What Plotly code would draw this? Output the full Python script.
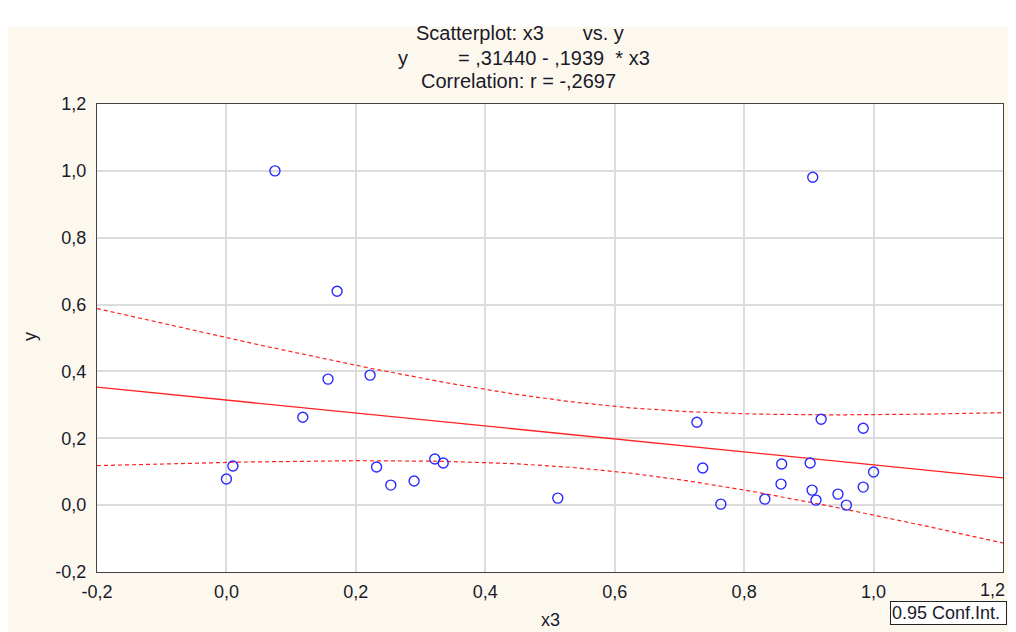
import numpy as np
import plotly.graph_objects as go

# ---- data ----
x3 = [0.075, 0.906, 0.171, 0.157, 0.222, 0.118, 0.000, 0.010, 0.232, 0.254,
      0.290, 0.322, 0.335, 0.512, 0.727, 0.736, 0.764, 0.832, 0.857, 0.858,
      0.902, 0.905, 0.911, 0.919, 0.945, 0.958, 0.984, 0.984, 1.000]
y = [1.000, 0.981, 0.640, 0.377, 0.389, 0.263, 0.078, 0.117, 0.114, 0.060,
     0.072, 0.138, 0.126, 0.021, 0.248, 0.111, 0.003, 0.018, 0.063, 0.123,
     0.126, 0.045, 0.015, 0.257, 0.033, 0.000, 0.230, 0.054, 0.099]
intercept = 0.31440
slope = -0.1939
t_crit = 2.052  # t(0.975, df=27)

tick_vals = [-0.2, 0.0, 0.2, 0.4, 0.6, 0.8, 1.0, 1.2]
tick_text = ["-0,2", "0,0", "0,2", "0,4", "0,6", "0,8", "1,0", "1,2"]

# ---- regression line and 95% confidence band ----
xa = np.array(x3); ya = np.array(y)
n = len(xa)
xm = xa.mean()
sxx = ((xa - xm) ** 2).sum()
resid = ya - (intercept + slope * xa)
s = np.sqrt((resid ** 2).sum() / (n - 2))
xs = np.linspace(-0.2, 1.2, 141)
pred = intercept + slope * xs
se = s * np.sqrt(1.0 / n + (xs - xm) ** 2 / sxx)
upper = pred + t_crit * se
lower = pred - t_crit * se

OFF = 8  # browser body margin
W, H = 1016 - 2 * OFF, 632 - OFF
L, T = 97 - OFF, 104 - OFF
R = (OFF + W) - 1003
B = 632 - 572
pw, ph = W - L - R, H - T - B

def px(x):  # x in reference-page pixels -> paper
    return (x - OFF - L) / pw

def py(yy):  # y in reference-page pixels -> paper
    return (H - B - (yy - OFF)) / ph

fig = go.Figure()
fig.add_trace(go.Scatter(x=xs, y=upper, mode="lines",
                         line=dict(color="#ff2020", width=1.2, dash="4px,3px"),
                         showlegend=False, hoverinfo="skip"))
fig.add_trace(go.Scatter(x=xs, y=lower, mode="lines",
                         line=dict(color="#ff2020", width=1.2, dash="4px,3px"),
                         showlegend=False, hoverinfo="skip"))
fig.add_trace(go.Scatter(x=xs, y=pred, mode="lines",
                         line=dict(color="#ff2020", width=1.3),
                         showlegend=False))
fig.add_trace(go.Scatter(x=x3, y=y, mode="markers",
                         marker=dict(symbol="circle-open", size=10,
                                     color="#2a2aff", line=dict(width=1.4)),
                         showlegend=False))

FS = 18
TFS = 20
axis_common = dict(showgrid=True, gridcolor="#dcdcdc", gridwidth=1.5,
                   zeroline=False, showline=True, linecolor="#444444",
                   linewidth=1.4, mirror=True, ticks="outside",
                   tickcolor="rgba(0,0,0,0)",
                   tickfont=dict(family="Liberation Sans, Arial", size=FS, color="#1a1a2a"))

# last x tick label would overflow the page; it is drawn as an annotation instead
x_tick_text = tick_text[:-1] + [""]

fig.update_layout(
    width=W, height=H,
    margin=dict(l=L, r=R, t=T, b=B),
    paper_bgcolor="#fdf8ee",
    plot_bgcolor="#ffffff",
    xaxis=dict(range=[-0.2, 1.2], tickvals=tick_vals, ticktext=x_tick_text,
               ticklen=3, **axis_common),
    yaxis=dict(range=[-0.2, 1.2], tickvals=tick_vals, ticktext=tick_text,
               ticklen=6, **axis_common),
    font=dict(family="Liberation Sans, Arial", size=FS, color="#1a1a2a"),
    showlegend=False,
)

fig.add_annotation(xref="paper", yref="paper", showarrow=False,
                   text=tick_text[-1], x=px(1007), y=py(590),
                   xanchor="right", yanchor="middle",
                   font=dict(size=FS, color="#1a1a2a"))

nb = "\u00a0"
anns = [
    dict(text="Scatterplot: x3" + nb * 7 + "vs. y", x=px(520), y=py(33)),
    dict(text="y" + nb * 9 + "= ,31440 - ,1939" + nb * 2 + "* x3", x=px(524), y=py(58)),
    dict(text="Correlation: r = -,2697", x=px(518), y=py(81)),
]
for a in anns:
    fig.add_annotation(xref="paper", yref="paper", showarrow=False,
                       xanchor="center", yanchor="middle",
                       font=dict(size=TFS, color="#1a1a2a"), **a)
fig.add_annotation(xref="paper", yref="paper", showarrow=False, text="x3",
                   x=px(550), y=py(620), xanchor="center", yanchor="middle",
                   font=dict(size=FS, color="#1a1a2a"))
fig.add_annotation(xref="paper", yref="paper", showarrow=False, text="y",
                   x=px(30), y=py(337), textangle=-90, xanchor="center",
                   yanchor="middle", font=dict(size=FS, color="#1a1a2a"))
fig.add_annotation(xref="paper", yref="paper", showarrow=False,
                   text="0.95 Conf.Int." + nb, x=px(890), y=py(601),
                   xanchor="left", yanchor="top", align="left",
                   bordercolor="#222", borderwidth=1, borderpad=1,
                   bgcolor="#ffffff", font=dict(size=FS, color="#1a1a2a"))

# white strip at the top of the page
fig.add_shape(type="rect", xref="paper", yref="paper", layer="below",
              x0=px(0), x1=px(1016), y0=py(27), y1=py(0),
              fillcolor="#ffffff", line=dict(width=0))

fig.write_html("out.html", config={"displayModeBar": False})
